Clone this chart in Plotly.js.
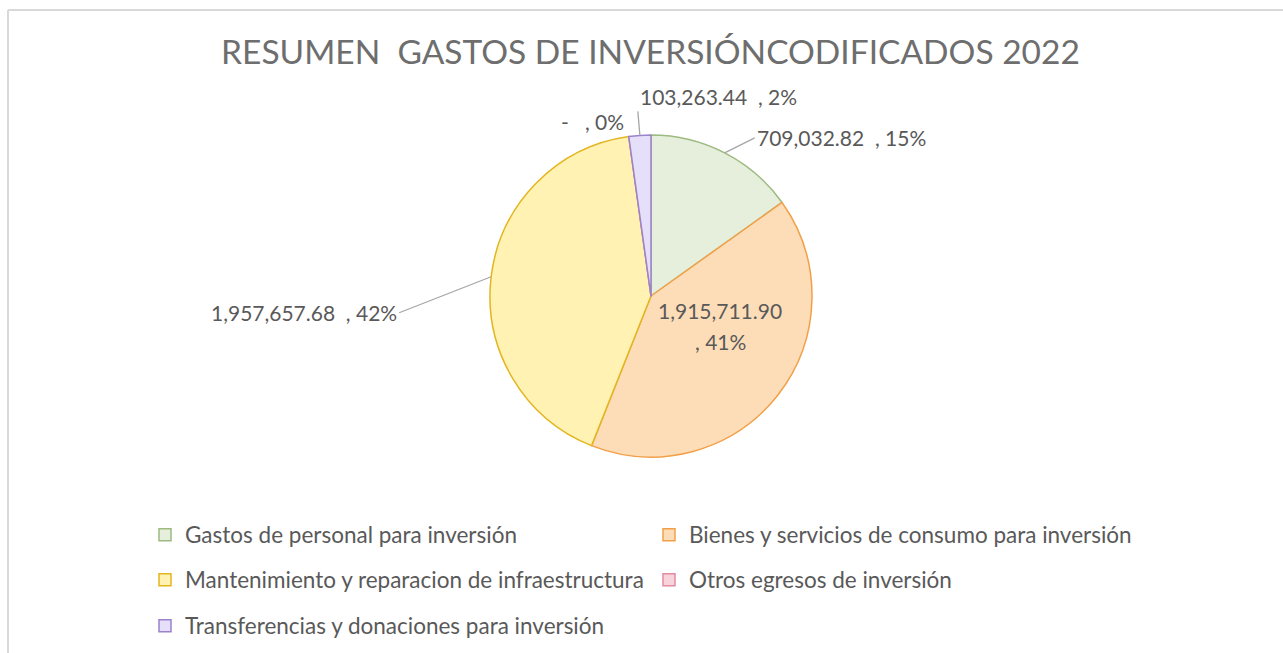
<!DOCTYPE html>
<html>
<head>
<meta charset="utf-8">
<script src="https://cdn.plot.ly/plotly-3.0.1.min.js"></script>
<style>html,body{margin:0;padding:0;background:#fff;}#chart{width:1283px;height:653px;}</style>
</head>
<body>
<div id="chart"></div>
<script>
// ---- data ----
const categories = [
  'Gastos de personal para inversión',
  'Bienes y servicios de consumo para inversión',
  'Mantenimiento y reparacion de infraestructura',
  'Otros egresos de inversión',
  'Transferencias y donaciones para inversión'
];
const values = [709032.82, 1915711.90, 1957657.68, 0, 103263.44];
const valueLabels = ['709,032.82', '1,915,711.90', '1,957,657.68', '-', '103,263.44'];
const titleText = 'RESUMEN  GASTOS DE INVERSIÓNCODIFICADOS 2022';

// ---- styles ----
const fills = ['#E6EFDB', '#FDDDB8', '#FFF2B3', '#F9D3DC', '#E6DFFA'];
const borders = ['#9DBB80', '#F2A048', '#E3B520', '#E28CA2', '#9A82CC'];
const FONT = 'Lato, "Liberation Sans", sans-serif';
const TXT = '#595959';
const W = 1283, H = 653;
const CX = 651, CY = 296, R = 161;

const total = values.reduce((a, b) => a + b, 0);
const pct = values.map(v => Math.round(v / total * 100) + '%');
const sliceText = values.map((v, i) => valueLabels[i] + '  , ' + pct[i]);

// point on slice i's mid-angle (clockwise from 12 o'clock) at radius fraction k, in paper coords
function midPoint(i, k) {
  let cum = 0;
  for (let j = 0; j < i; j++) cum += values[j];
  const f = (cum + values[i] / 2) / total;
  const a = 2 * Math.PI * f;
  return { x: (CX + k * R * Math.sin(a)) / W, y: 1 - (CY - k * R * Math.cos(a)) / H };
}

const pie = {
  type: 'pie',
  labels: categories,
  values: values,
  sort: false,
  direction: 'clockwise',
  rotation: 0,
  showlegend: false,
  domain: { x: [(CX - 1.3 * R) / W, (CX + 1.3 * R) / W], y: [1 - (CY + R) / H, 1 - (CY - R) / H] },
  marker: { colors: fills, line: { color: borders, width: 1.5 } },
  textinfo: 'none',
  hoverinfo: 'label+value+percent'
};

// legend entries (one legend per row)
const legendRows = ['legend', 'legend', 'legend2', 'legend2', 'legend3'];
const legendTraces = categories.map((c, i) => ({
  type: 'scatter', mode: 'markers', x: [null], y: [null], name: c,
  legend: legendRows[i], showlegend: true, hoverinfo: 'skip',
  marker: { symbol: 'square', size: 12, color: fills[i], line: { color: borders[i], width: 1.5 } }
}));

const legendBase = (yPix) => ({
  orientation: 'h', x: 145 / W, xanchor: 'left', y: 1 - yPix / H, yanchor: 'middle',
  font: { family: FONT, size: 22.5, color: TXT }, bgcolor: 'rgba(0,0,0,0)',
  entrywidth: 459, entrywidthmode: 'pixels', itemclick: false, itemdoubleclick: false
});

const annFont = { family: FONT, size: 21, color: TXT };
const lineCol = '#A6A6A6';
const e0 = midPoint(0, 1), e1 = midPoint(1, 0.5), e2 = midPoint(2, 1), e3 = midPoint(3, 1), e4 = midPoint(4, 1);
const annotations = [
  { xref: 'paper', yref: 'paper', x: e0.x, y: e0.y, ax: 30, ay: -15, text: sliceText[0],
    xanchor: 'left', yanchor: 'middle', showarrow: true, arrowhead: 0, arrowwidth: 1.3, arrowcolor: lineCol, font: annFont },
  { xref: 'paper', yref: 'paper', x: e1.x, y: e1.y, xshift: 6, yshift: 35, text: valueLabels[1],
    xanchor: 'center', yanchor: 'middle', showarrow: false, font: annFont },
  { xref: 'paper', yref: 'paper', x: e1.x, y: e1.y, xshift: 6, yshift: 4, text: ', ' + pct[1],
    xanchor: 'center', yanchor: 'middle', showarrow: false, font: annFont },
  { xref: 'paper', yref: 'paper', x: e2.x, y: e2.y, ax: -92, ay: 36, text: sliceText[2],
    xanchor: 'right', yanchor: 'middle', showarrow: true, arrowhead: 0, arrowwidth: 1.3, arrowcolor: lineCol, font: annFont },
  { xref: 'paper', yref: 'paper', x: e3.x, y: e3.y, text: valueLabels[3] + '   , ' + pct[3],
    xanchor: 'right', yanchor: 'middle', xshift: -3, yshift: 15, showarrow: false, font: annFont },
  { xref: 'paper', yref: 'paper', x: e4.x, y: e4.y, ax: -2, ay: -24, text: sliceText[4],
    xanchor: 'left', yanchor: 'bottom', showarrow: true, arrowhead: 0, arrowwidth: 1.3, arrowcolor: lineCol, font: annFont }
];

const layout = {
  width: W, height: H,
  margin: { l: 0, r: 0, t: 0, b: 0 },
  paper_bgcolor: '#FFFFFF', plot_bgcolor: 'rgba(0,0,0,0)',
  title: { text: titleText, font: { family: FONT, size: 33.5, color: '#6E6E6E' }, x: 0.507, xanchor: 'center', y: 1 - 52 / H, yanchor: 'middle' },
  xaxis: { visible: false, domain: [0, 0.01] }, yaxis: { visible: false, domain: [0, 0.01] },
  legend: legendBase(535), legend2: legendBase(580), legend3: legendBase(626),
  annotations: annotations,
  shapes: [
    { type: 'line', xref: 'paper', yref: 'paper', x0: 8 / W, x1: 1, y0: 1 - 10 / H, y1: 1 - 10 / H, line: { color: '#D9D9D9', width: 2 } },
    { type: 'line', xref: 'paper', yref: 'paper', x0: 8 / W, x1: 8 / W, y0: 1 - 10 / H, y1: 0, line: { color: '#D9D9D9', width: 2 } }
  ],
  showlegend: true
};

Plotly.newPlot('chart', [pie].concat(legendTraces), layout, { displayModeBar: false });
</script>
</body>
</html>
